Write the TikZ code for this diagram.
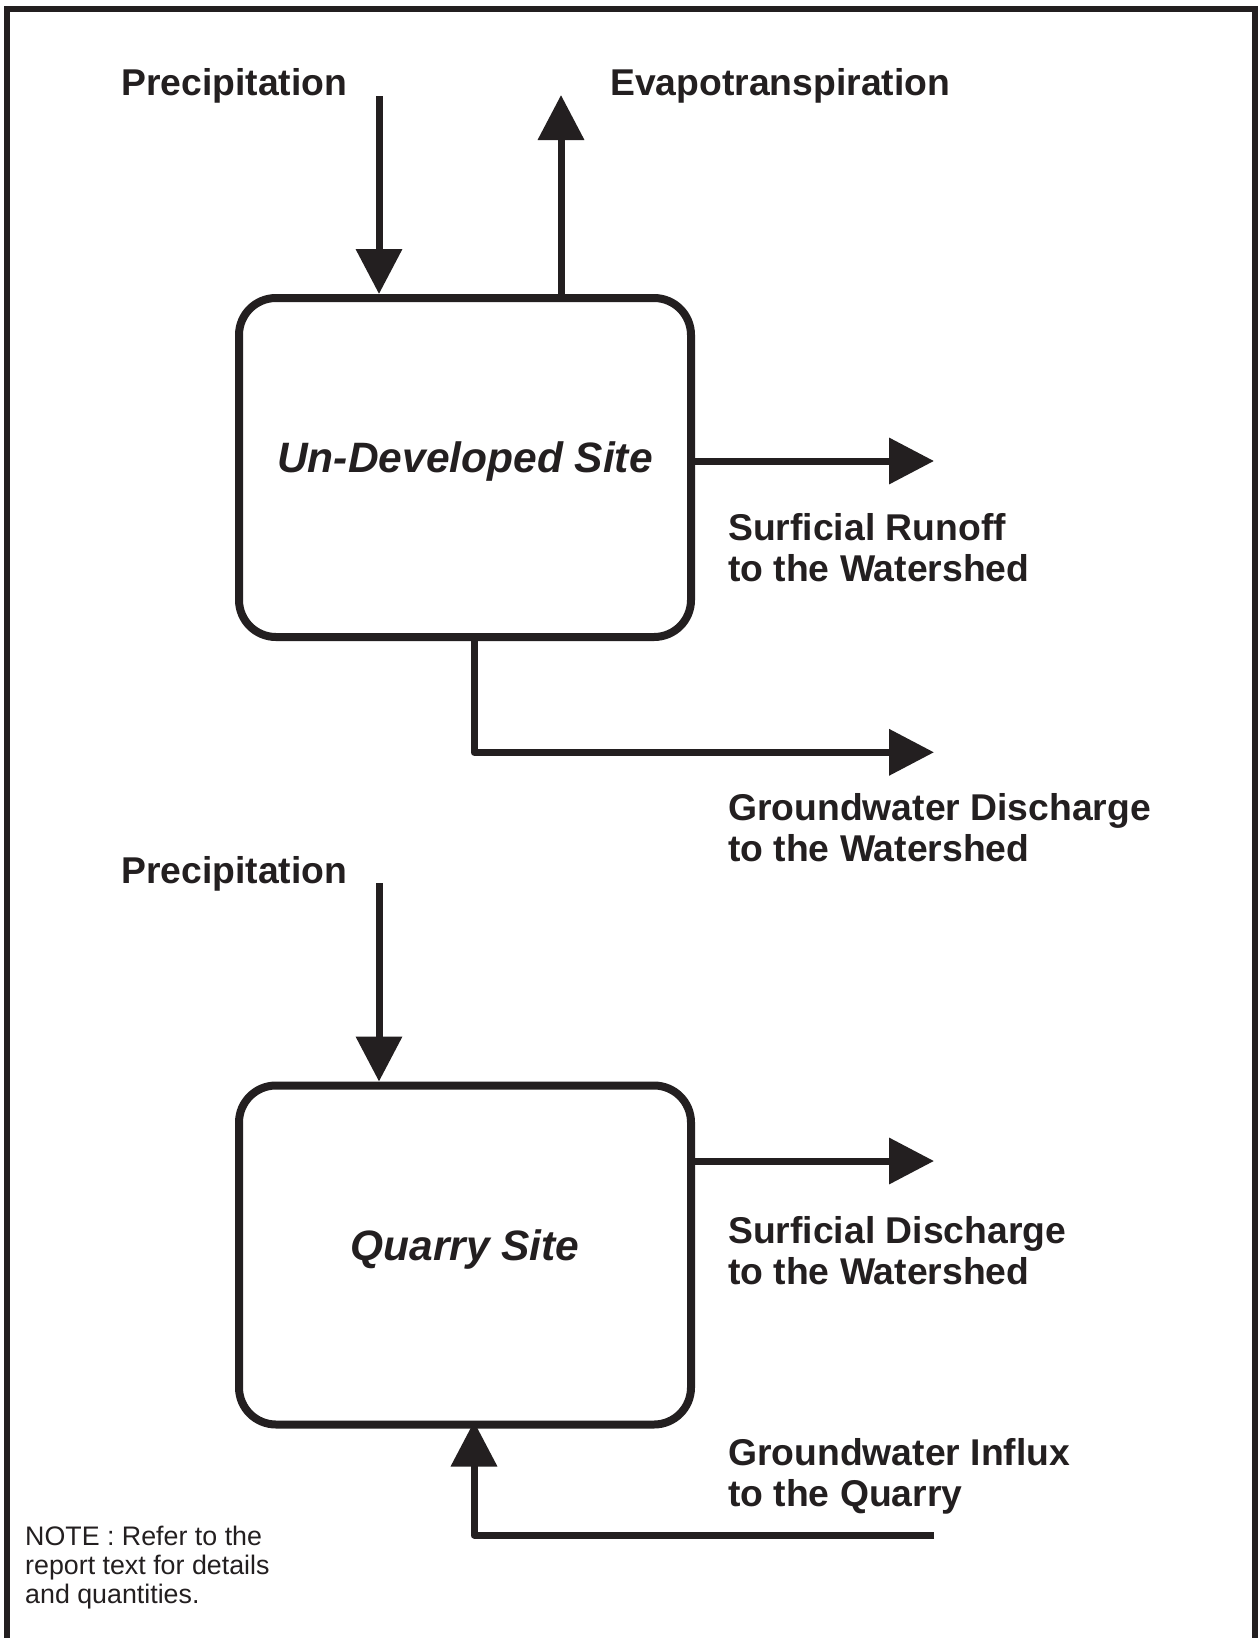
\documentclass[tikz,border=0pt]{standalone}
\usepackage{fontspec}
\setmainfont{Liberation Sans}
\usetikzlibrary{arrows.meta}
\definecolor{ink}{RGB}{35,31,32}
\begin{document}
\begin{tikzpicture}[x=1pt,y=-1pt,
  flow/.style={draw=ink, line width=7pt, -{Triangle[length=45pt,width=45pt]}, line join=round},
  sitebox/.style={draw=ink, line width=8pt, rounded corners=37pt, minimum width=452pt,
    minimum height=339pt, inner sep=0pt, text=ink,
    font=\fontsize{42.5}{50}\selectfont\bfseries\itshape, text height=20pt, text depth=9.6pt},
  lbl/.style={anchor=base west, inner sep=0pt, align=left, text=ink,
    font=\fontsize{37.3}{41}\selectfont\bfseries},
  notetext/.style={anchor=base west, inner sep=0pt, align=left, text=ink,
    font=\fontsize{26.8}{29.3}\selectfont},
  framec/.style={draw=ink, line width=6pt, line join=miter}]
\useasboundingbox (0,0) rectangle (1258,1638);
\fill[white] (0,0) rectangle (1258,1638);
% frame
\draw[framec] (7,1645) -- (7,9) -- (1255,9) -- (1255,1645);

% boxes
\node[sitebox] (siteA) at (465,467.5) {Un-Developed Site};
\node[sitebox] (siteB) at (465,1255) {Quarry Site};

% labels (anchor = baseline of the last line)
\node[lbl] (precipA) at (121,95) {Precipitation};
\node[lbl] (evap) at (610,95) {Evapotranspiration};
\node[lbl] (runoff) at (728,581.7) {Surficial Runoff\\to the Watershed};
\node[lbl] (gwdis) at (728,861) {Groundwater Discharge\\to the Watershed};
\node[lbl] (precipB) at (121,883.4) {Precipitation};
\node[lbl] (surfdis) at (728,1284.3) {Surficial Discharge\\to the Watershed};
\node[lbl] (gwin) at (728,1506.5) {Groundwater Influx\\to the Quarry};
\node[notetext] (note) at (25,1603.6) {NOTE : Refer to the\\report text for details\\and quantities.};

% connector end points
\coordinate (pA) at (379,96);
\coordinate (eA) at (561,95);
\coordinate (rA) at (934,461);
\coordinate (gA) at (474,752.3);
\coordinate (gAend) at (934,752.3);
\coordinate (pB) at (379,883);
\coordinate (sB) at (934,1161);
\coordinate (gBstart) at (934,1535);
\coordinate (gB) at (474,1535);

% connectors
\draw[flow] (pA) -- (pA |- siteA.north);
\draw[flow] (eA |- siteA.north) -- (eA);
\draw[flow] (siteA.east |- rA) -- (rA);
\draw[flow] (siteA.south -| gA) -- (gA) -- (gAend);
\draw[flow] (pB) -- (pB |- siteB.north);
\draw[flow] (siteB.east |- sB) -- (sB);
\draw[flow] (gBstart) -- (gB) -- ([yshift=7pt]gB |- siteB.south);
\end{tikzpicture}
\end{document}
